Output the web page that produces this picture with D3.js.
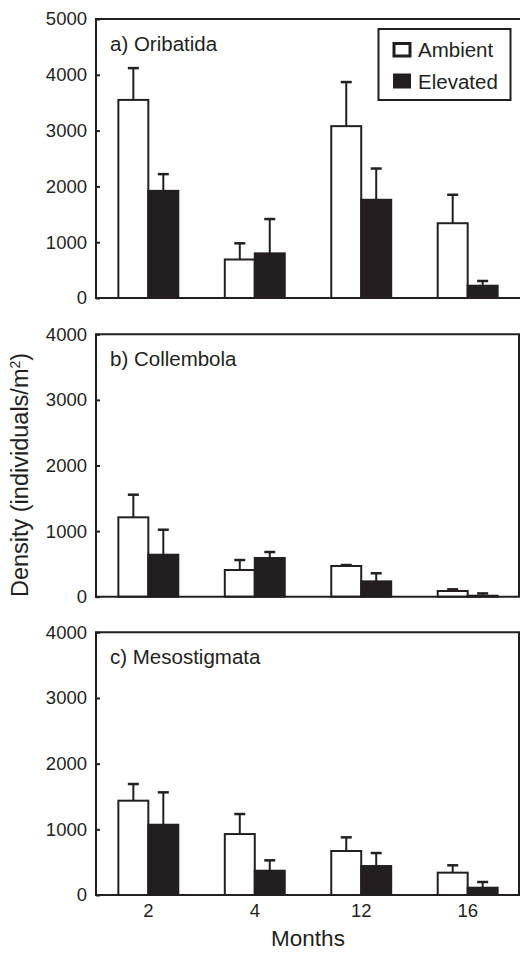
<!DOCTYPE html>
<html>
<head>
<meta charset="utf-8">
<script src="https://cdn.jsdelivr.net/npm/d3@7"></script>
<style>
  body { margin: 0; background: #fff; }
  svg { display: block; font-family: "Liberation Sans", Arial, sans-serif; }
</style>
</head>
<body>
<svg id="chart" width="520" height="953"></svg>
<script>
// data
const months = ["2", "4", "12", "16"];
const series = ["Ambient", "Elevated"];

const oribatidaAmbient = [3550, 690, 3080, 1340];
const oribatidaAmbientSE = [570, 290, 790, 510];
const oribatidaElevated = [1920, 800, 1760, 220];
const oribatidaElevatedSE = [300, 615, 560, 85];

const collembolaAmbient = [1210, 407, 468, 87];
const collembolaAmbientSE = [345, 152, 15, 25];
const collembolaElevated = [640, 590, 234, 15];
const collembolaElevatedSE = [381, 91, 123, 35];

const mesoAmbient = [1436, 928, 670, 340];
const mesoAmbientSE = [254, 305, 208, 112];
const mesoElevated = [1070, 370, 441, 111];
const mesoElevatedSE = [493, 158, 198, 87];

const ticksA = [0, 1000, 2000, 3000, 4000, 5000];
const ticksBC = [0, 1000, 2000, 3000, 4000];

const panels = [
  { label: "a) Oribatida", max: 5000, ticks: ticksA, top: 19, bottom: 298, rightBorder: false,
    amb: oribatidaAmbient, ambSE: oribatidaAmbientSE, ele: oribatidaElevated, eleSE: oribatidaElevatedSE },
  { label: "b) Collembola", max: 4000, ticks: ticksBC, top: 334.3, bottom: 596.7, rightBorder: true,
    amb: collembolaAmbient, ambSE: collembolaAmbientSE, ele: collembolaElevated, eleSE: collembolaElevatedSE },
  { label: "c) Mesostigmata", max: 4000, ticks: ticksBC, top: 632.3, bottom: 895, rightBorder: true,
    amb: mesoAmbient, ambSE: mesoAmbientSE, ele: mesoElevated, eleSE: mesoElevatedSE }
];

const ink = "#231f20";
const left = 96, right = 519;

const svg = d3.select("#chart");

const x0 = d3.scaleBand()
  .domain(months)
  .range([96, 520])
  .paddingInner(0.437)
  .paddingOuter(0.21);

const x1 = d3.scaleBand()
  .domain(series)
  .range([0, x0.bandwidth()])
  .padding(0);

const fillFor = { Ambient: "#fff", Elevated: ink };

panels.forEach(p => {
  const y = d3.scaleLinear().domain([0, p.max]).range([p.bottom, p.top]);
  const g = svg.append("g");

  const rows = [];
  months.forEach((m, i) => {
    rows.push({ month: m, s: "Ambient", v: p.amb[i], se: p.ambSE[i] });
    rows.push({ month: m, s: "Elevated", v: p.ele[i], se: p.eleSE[i] });
  });

  // error bars (upper only)
  const eb = g.selectAll("g.err").data(rows).join("g").attr("class", "err");
  eb.append("line")
    .attr("x1", d => x0(d.month) + x1(d.s) + x1.bandwidth() / 2)
    .attr("x2", d => x0(d.month) + x1(d.s) + x1.bandwidth() / 2)
    .attr("y1", d => y(d.v))
    .attr("y2", d => y(d.v + d.se))
    .attr("stroke", ink)
    .attr("stroke-width", 2);
  eb.append("line")
    .attr("x1", d => x0(d.month) + x1(d.s) + x1.bandwidth() / 2 - 5.5)
    .attr("x2", d => x0(d.month) + x1(d.s) + x1.bandwidth() / 2 + 5.5)
    .attr("y1", d => y(d.v + d.se))
    .attr("y2", d => y(d.v + d.se))
    .attr("stroke", ink)
    .attr("stroke-width", 2.5);

  g.selectAll("rect.bar")
    .data(rows)
    .join("rect")
    .attr("class", "bar")
    .attr("x", d => x0(d.month) + x1(d.s))
    .attr("y", d => y(d.v))
    .attr("width", x1.bandwidth())
    .attr("height", d => y(0) - y(d.v))
    .attr("fill", d => fillFor[d.s])
    .attr("stroke", ink)
    .attr("stroke-width", 2);

  // y axis, ticks pointing inward
  const ax = g.append("g")
    .attr("transform", `translate(${left},0)`)
    .call(d3.axisLeft(y).tickValues(p.ticks).tickSize(-4).tickSizeOuter(0).tickPadding(9).tickFormat(d3.format("d")));
  ax.select(".domain").remove();
  ax.selectAll(".tick line").attr("stroke", ink).attr("stroke-width", 2);
  ax.selectAll(".tick text")
    .attr("fill", ink)
    .style("font-size", "18.5px")
    .style("font-family", "'Liberation Sans', Arial, sans-serif");

  // frame
  const frame = g.append("g").attr("stroke", ink).attr("stroke-width", 2).attr("fill", "none");
  frame.append("line").attr("x1", left).attr("x2", left).attr("y1", p.top).attr("y2", p.bottom + 1);
  frame.append("line").attr("x1", left - 1).attr("x2", p.rightBorder ? right + 1 : 520).attr("y1", p.bottom).attr("y2", p.bottom);
  frame.append("line").attr("x1", left - 1).attr("x2", p.rightBorder ? right + 1 : 520).attr("y1", p.top).attr("y2", p.top);
  if (p.rightBorder) {
    frame.append("line").attr("x1", right).attr("x2", right).attr("y1", p.top).attr("y2", p.bottom);
  }

  g.append("text")
    .attr("x", 110)
    .attr("y", p.top + 31.5)
    .attr("fill", ink)
    .style("font-size", "20.5px")
    .text(p.label);
});

// month labels under bottom panel
svg.append("g")
  .selectAll("text")
  .data(months)
  .join("text")
  .attr("x", d => x0(d) + x0.bandwidth() / 2)
  .attr("y", 917)
  .attr("text-anchor", "middle")
  .attr("fill", ink)
  .style("font-size", "18.5px")
  .text(d => d);

// legend
const lg = svg.append("g");
lg.append("rect")
  .attr("x", 378.5).attr("y", 29)
  .attr("width", 132).attr("height", 71)
  .attr("fill", "#fff").attr("stroke", ink).attr("stroke-width", 2);
series.forEach((s, i) => {
  const yy = 42 + i * 31.5;
  lg.append("rect")
    .attr("x", s === "Ambient" ? 394 : 393)
    .attr("y", s === "Ambient" ? yy + 1.5 : yy)
    .attr("width", s === "Ambient" ? 16 : 18)
    .attr("height", s === "Ambient" ? 12.5 : 15)
    .attr("fill", fillFor[s])
    .attr("stroke", ink)
    .attr("stroke-width", s === "Ambient" ? 3 : 0);
  lg.append("text")
    .attr("x", 418)
    .attr("y", yy + 15)
    .attr("fill", ink)
    .style("font-size", "20.5px")
    .text(s);
});

// axis titles
svg.append("text")
  .attr("transform", "translate(27.5,475) rotate(-90)")
  .attr("text-anchor", "middle")
  .attr("fill", ink)
  .style("font-size", "23.5px")
  .html('Density (individuals/m<tspan dy="-8" font-size="14px">2</tspan><tspan dy="8">)</tspan>');

svg.append("text")
  .attr("x", 308)
  .attr("y", 946)
  .attr("text-anchor", "middle")
  .attr("fill", ink)
  .style("font-size", "22.5px")
  .text("Months");
</script>
</body>
</html>
